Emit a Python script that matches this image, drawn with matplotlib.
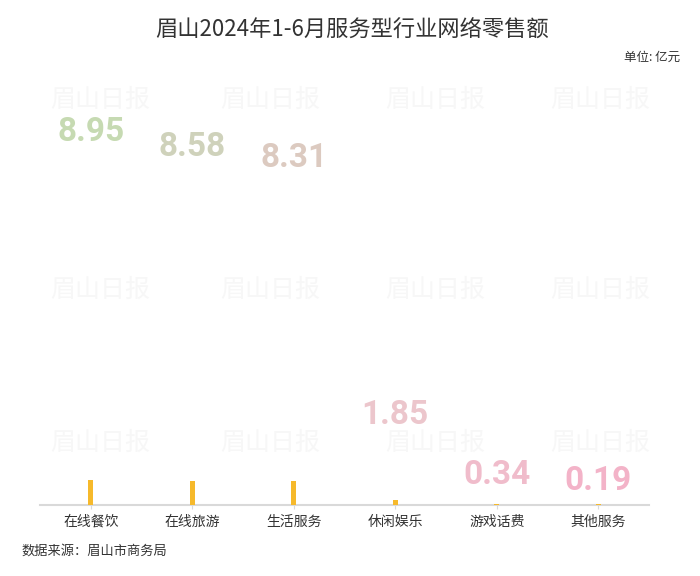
import matplotlib
matplotlib.use("Agg")
import matplotlib.pyplot as plt

plt.rcParams['font.family'] = ['Noto Sans CJK SC', 'DejaVu Sans']

categories = ["在线餐饮", "在线旅游", "生活服务", "休闲娱乐", "游戏话费", "其他服务"]
values = [8.95, 8.58, 8.31, 1.85, 0.34, 0.19]
label_colors = ["#c6dab2", "#cfd2bb", "#dccac0", "#ecc6cc", "#f0bccb", "#f3b3c8"]

fig = plt.figure(figsize=(7, 5.76), dpi=100)

# faint watermark grid, kept behind everything
for wy in [0.826, 0.497, 0.231]:
    for wx in [0.143, 0.386, 0.621, 0.857]:
        fig.text(wx, wy, "眉山日报", fontsize=18, color="#f7f7f7", style="italic",
                 ha="center", va="center", zorder=-5)

ax = fig.add_axes([0.0571, 0.1233, 0.87, 0.7413])
ax.patch.set_alpha(0)
x = list(range(len(categories)))
ax.bar(x, values, width=0.05, color="#f6b92b", zorder=3)

for xi, v, c in zip(x, values, label_colors):
    ax.annotate(f"{v:.2f}", (xi, v * 14), xytext=(0, 0), textcoords="offset points",
                ha="center", va="bottom", fontsize=24, fontweight="bold",
                family="Roboto", color=c, zorder=4)

ax.set_xlim(-0.5, 5.5)
ax.set_ylim(0, 150)
ax.set_yticks([])
for s in ["top", "right", "left"]:
    ax.spines[s].set_visible(False)
ax.spines["bottom"].set_color("#d9d9d9")
ax.spines["bottom"].set_linewidth(1.5)
ax.set_xticks(x)
ax.set_xticklabels(categories, fontsize=10, color="#333333")
ax.tick_params(axis="x", length=3, color="#d9d9d9", pad=4)

fig.text(0.503, 0.948, "眉山2024年1-6月服务型行业网络零售额", fontsize=16,
         color="#333333", ha="center", va="center")
fig.text(0.971, 0.901, "单位: 亿元", fontsize=9, color="#333333", ha="right", va="center")
fig.text(0.03, 0.043, "数据来源：眉山市商务局", fontsize=9.5, color="#333333",
         ha="left", va="center")

fig.savefig("out.png", dpi=100)
